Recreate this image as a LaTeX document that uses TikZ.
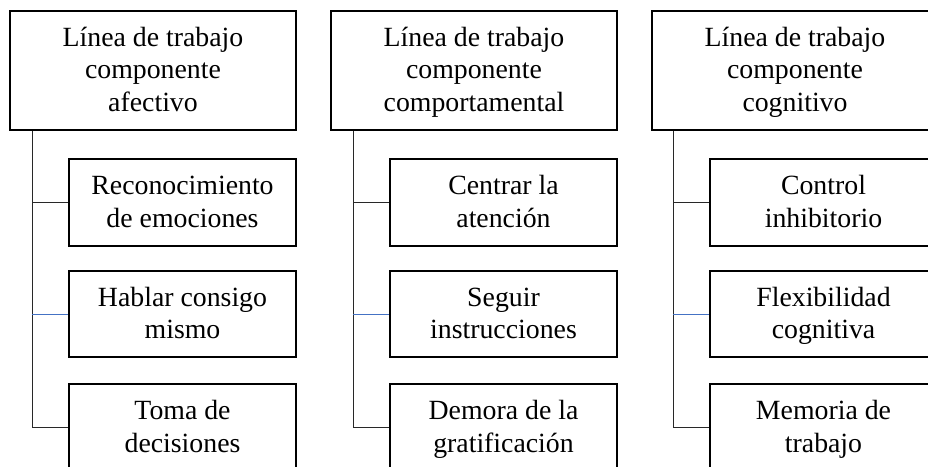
\documentclass[tikz,border=0pt]{standalone}
\usepackage{fontspec}
\setmainfont{Liberation Serif}
\definecolor{linkblue}{RGB}{68,114,196}
\definecolor{linkgray}{RGB}{40,40,40}
\newcommand\boxlines[1]{\raisebox{-1.8pt}[\height][\depth]{\begin{tabular}{@{}c@{}}#1\end{tabular}}}
\begin{document}
\begin{tikzpicture}[x=1pt,y=-1pt,
  box/.style={draw=black,line width=1.7pt,rectangle,inner sep=0pt,
    font=\fontsize{27.8}{32.5}\selectfont},
  headbox/.style={box,minimum width=286pt,minimum height=119pt},
  itembox/.style={box,minimum width=227pt,minimum height=87pt},
  link/.style={draw=linkgray,line width=1pt},
  bluelink/.style={draw=linkblue,line width=1pt}]
\useasboundingbox (0,0) rectangle (928,466);
\clip (0,0) rectangle (928,466);
% column 1
\node[headbox] (h1) at (153,70.5) {\boxlines{Línea de trabajo\\componente\\afectivo}};
\node[itembox] (a1) at (182.5,202.5) {\boxlines{Reconocimiento\\de emociones}};
\node[itembox,minimum height=86pt] (a2) at (182.5,314) {\boxlines{Hablar consigo\\mismo}};
\node[itembox] (a3) at (182.5,427.5) {\boxlines{Toma de\\decisiones}};
\coordinate (v1) at (32,0);
\draw[link] (v1 |- h1.south) |- (a3.west);
\draw[link] (v1 |- a1.west) -- (a1.west);
\draw[bluelink] (v1 |- a2.west) -- (a2.west);
% column 2
\node[headbox] (h2) at (474,70.5) {\boxlines{Línea de trabajo\\componente\\comportamental}};
\node[itembox] (b1) at (503.5,202.5) {\boxlines{Centrar la\\atención}};
\node[itembox,minimum height=86pt] (b2) at (503.5,314) {\boxlines{Seguir\\instrucciones}};
\node[itembox] (b3) at (503.5,427.5) {\boxlines{Demora de la\\gratificación}};
\coordinate (v2) at (353,0);
\draw[link] (v2 |- h2.south) |- (b3.west);
\draw[link] (v2 |- b1.west) -- (b1.west);
\draw[bluelink] (v2 |- b2.west) -- (b2.west);
% column 3
\node[headbox] (h3) at (795,70.5) {\boxlines{Línea de trabajo\\componente\\cognitivo}};
\node[itembox] (c1) at (823.5,202.5) {\boxlines{Control\\inhibitorio}};
\node[itembox,minimum height=86pt] (c2) at (823.5,314) {\boxlines{Flexibilidad\\cognitiva}};
\node[itembox] (c3) at (823.5,427.5) {\boxlines{Memoria de\\trabajo}};
\coordinate (v3) at (673,0);
\draw[link] (v3 |- h3.south) |- (c3.west);
\draw[link] (v3 |- c1.west) -- (c1.west);
\draw[bluelink] (v3 |- c2.west) -- (c2.west);
\end{tikzpicture}
\end{document}
